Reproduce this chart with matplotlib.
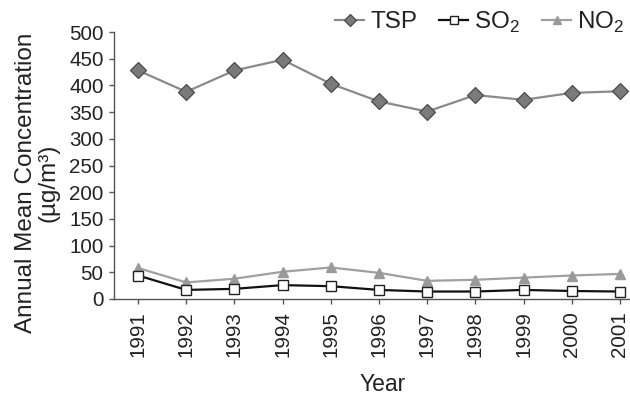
import matplotlib
matplotlib.use("Agg")
import matplotlib.pyplot as plt

plt.rcParams['font.family'] = ['Liberation Sans', 'DejaVu Sans']
plt.rcParams['mathtext.fontset'] = 'custom'
plt.rcParams['mathtext.rm'] = 'Liberation Sans'

years = ['1991', '1992', '1993', '1994', '1995', '1996',
         '1997', '1998', '1999', '2000', '2001']
tsp = [428, 388, 428, 448, 403, 370, 351, 382, 373, 386, 389]
so2 = [44, 17, 19, 26, 24, 17, 14, 14, 17, 15, 14]
no2 = [58, 31, 38, 51, 59, 49, 34, 36, 40, 44, 47]

fig = plt.figure(figsize=(6.3, 3.96), dpi=100)
# axis runs a bit past the right edge, as in the original (cropped)
ax = fig.add_axes([114/630, 97/396, 530/630, 267/396])

x = range(len(years))
ax.plot(x, tsp, color='#8a8a8a', lw=1.6, marker='D', ms=8,
        mfc='#7a7a7a', mec='#4a4a4a', mew=0.9, label='TSP')
ax.plot(x, so2, color='#111111', lw=1.6, marker='s', ms=6.5,
        mfc='white', mec='#222222', mew=1.0, label='SO$_2$', zorder=4)
ax.plot(x, no2, color='#a0a0a0', lw=1.6, marker='^', ms=6.5,
        mfc='#9a9a9a', mec='#9a9a9a', label='NO$_2$', zorder=3)

ax.set_xlim(-0.5, len(years) - 0.5)
ax.set_ylim(0, 500)
ax.set_yticks(range(0, 501, 50))
ax.set_xticks(list(x))
ax.set_xticklabels(years, rotation=90)

for s in ['top', 'right']:
    ax.spines[s].set_visible(False)
for s in ['left', 'bottom']:
    ax.spines[s].set_color('#555555')
    ax.spines[s].set_linewidth(1.0)
ax.tick_params(axis='both', colors='#555555', labelcolor='#222222',
               length=3.5, width=1.0, labelsize=14.8)
ax.tick_params(axis='y', pad=4)
ax.tick_params(axis='x', pad=5)

fig.text(37/630, 1 - 183/396, 'Annual Mean Concentration\n(µg/m³)',
         rotation=90, ha='center', va='center', multialignment='center',
         fontsize=17.5, color='#222222', linespacing=1.05)
fig.text(383/630, 5/396, 'Year', ha='center', va='baseline',
         fontsize=16.5, color='#222222')

fig.legend(loc='center left', bbox_to_anchor=(335/630, 1 - 22/396),
           ncol=3, frameon=False, fontsize=17.5, handlelength=1.2,
           handletextpad=0.25, columnspacing=0.9, borderpad=0,
           borderaxespad=0, markerscale=0.8, labelcolor='#222222')

fig.savefig('out.png', dpi=100)
